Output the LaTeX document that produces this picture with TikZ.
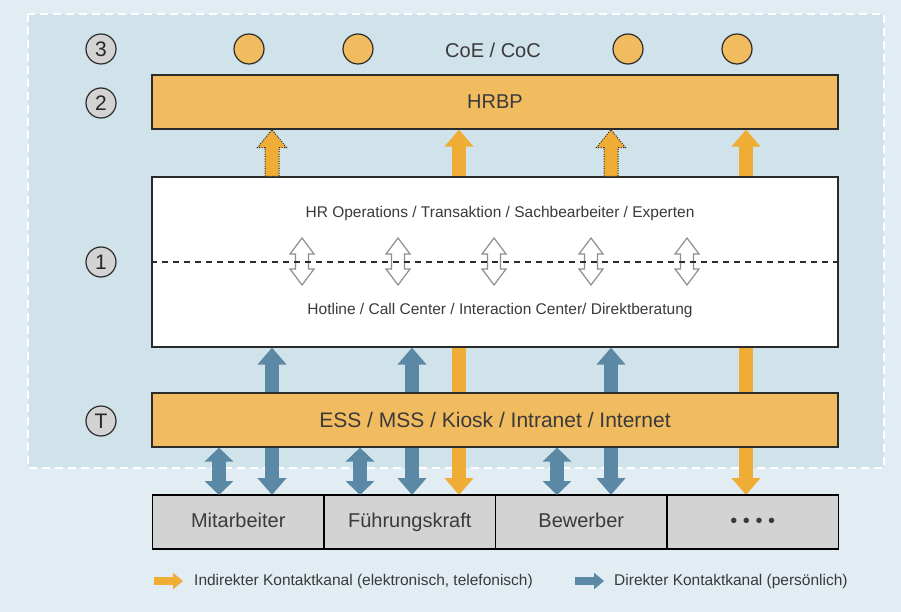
\documentclass[tikz,border=0pt]{standalone}
\usepackage{fontspec}
\setmainfont{Liberation Sans}
\usetikzlibrary{arrows.meta,positioning,calc}

\definecolor{outerblue}{HTML}{E1EDF2}
\definecolor{innerblue}{HTML}{D1E3EA}
\definecolor{barorange}{HTML}{F1BB5F}
\definecolor{arrorange}{HTML}{EFAD36}
\definecolor{arrblue}{HTML}{5B88A4}
\definecolor{boxgray}{HTML}{D3D3D3}
\definecolor{txtgray}{HTML}{3A3A3A}
\definecolor{linegray}{HTML}{2B2B2B}
\definecolor{hollowgray}{HTML}{8A8F93}

\pgfdeclarelayer{back}
\pgfsetlayers{back,main}

% block arrow with outline, tip at #3
\newcommand{\blockup}[3]{%
  \draw[#1] ($(#2)+(-7,0)$) -- ($(#3)+(-7,18)$) -- ($(#3)+(-14.5,18)$) -- (#3)
    -- ($(#3)+(14.5,18)$) -- ($(#3)+(7,18)$) -- ($(#2)+(7,0)$) -- cycle;}
% double block arrow, #2 on top, #3 below
\newcommand{\blockboth}[3]{%
  \draw[#1] (#2) -- ($(#2)+(12,16)$) -- ($(#2)+(6.5,16)$) -- ($(#3)+(6.5,-16)$)
    -- ($(#3)+(12,-16)$) -- (#3) -- ($(#3)+(-12,-16)$) -- ($(#3)+(-6.5,-16)$)
    -- ($(#2)+(-6.5,16)$) -- ($(#2)+(-12,16)$) -- cycle;}

\tikzset{
  bar/.style={rectangle, draw=linegray, line width=1.2pt, fill=barorange,
    minimum width=686pt, minimum height=54pt, inner sep=0pt, text=txtgray,
    font=\fontsize{20pt}{24pt}\selectfont},
  opsbox/.style={rectangle, draw=linegray, line width=1.2pt, fill=white,
    minimum width=686pt, minimum height=170pt, inner sep=0pt},
  grpbox/.style={rectangle, draw=black, line width=1.2pt, fill=boxgray,
    minimum width=171.5pt, minimum height=54pt, inner sep=0pt, outer sep=0pt,
    text height=14.5pt, text depth=4pt,
    text=txtgray, font=\fontsize{20pt}{24pt}\selectfont},
  numc/.style={circle, draw=linegray, line width=1.2pt, fill=boxgray,
    minimum size=30pt, inner sep=0pt, text=black!85,
    font=\fontsize{21pt}{24pt}\selectfont},
  coec/.style={circle, draw=linegray, line width=1.2pt, fill=barorange,
    minimum size=30pt, inner sep=0pt},
  lbl/.style={text=txtgray, inner sep=0pt, text height=10.5pt, text depth=3pt,
    font=\fontsize{15.5pt}{18pt}\selectfont},
  leglbl/.style={text=txtgray, inner sep=0pt, anchor=west,
    font=\fontsize{15.5pt}{18pt}\selectfont},
  oarrow/.style={draw=arrorange, line width=14pt,
    -{Triangle[width=28pt,length=17pt]}},
  barrow/.style={draw=arrblue, line width=14pt,
    {Triangle[width=28pt,length=17pt]}-{Triangle[width=28pt,length=17pt]}},
  bshort/.style={draw=arrblue, line width=14pt,
    {Triangle[width=28pt,length=14pt]}-{Triangle[width=28pt,length=14pt]}},
  dotarr/.style={fill=arrorange, draw=black!85, line width=1pt,
    dash pattern=on 1pt off 1.4pt},
  hollow/.style={fill=white, draw=hollowgray, line width=1.2pt},
  lego/.style={draw=arrorange, line width=8pt, -{Triangle[width=16pt,length=10pt]}},
  legb/.style={draw=arrblue, line width=8pt, -{Triangle[width=16pt,length=10pt]}}
}

\begin{document}
\begin{tikzpicture}[x=1pt, y=-1pt]
\useasboundingbox (0,0) rectangle (901,612);

% backgrounds
\begin{pgfonlayer}{back}
\fill[outerblue] (0,0) rectangle (901,612);
\draw[fill=innerblue, draw=white, line width=1.6pt, dash pattern=on 8pt off 5pt]
  (28,14) rectangle (884,468);
\end{pgfonlayer}

% levels
\node[numc] (n3) at (101,49) {3};
\node[numc] (n2) at (101,103) {2};
\node[numc] (n1) at (101,262) {1};
\node[numc] (nT) at (101,421) {T};

% CoE / CoC
\node[coec] (coe1) at (249,49) {};
\node[coec] (coe2) at (358,49) {};
\node[coec] (coe3) at (628,49) {};
\node[coec] (coe4) at (737,49) {};
\node[text=txtgray, font=\fontsize{20pt}{24pt}\selectfont] (coe) at (493,50) {CoE / CoC};

\node[bar] (hrbp) at (495,102) {HRBP};
\node[opsbox] (ops) at (495,262) {};
\node[lbl] (opstop) at (500,214) {HR Operations / Transaktion / Sachbearbeiter / Experten};
\node[lbl] (opsbot) at (500,311) {Hotline / Call Center / Interaction Center/ Direktberatung};
\node[bar, font=\fontsize{21pt}{25pt}\selectfont] (ess) at (495,420) {ESS / MSS / Kiosk / Intranet / Internet};

% target groups
\node[grpbox] (mit) at (238.25,522) {Mitarbeiter};
\node[grpbox, right=0pt of mit] (fk) {Führungskraft};
\node[grpbox, right=0pt of fk] (bew) {Bewerber};
\node[grpbox, right=0pt of bew] (more) {• • • •};

% arrow columns
\coordinate (colA) at (272,0);
\coordinate (colB) at (459,0);
\coordinate (colC) at (611,0);
\coordinate (colD) at (746,0);
\coordinate (colE) at (412,0);
\coordinate (sh1) at (219,0);
\coordinate (sh2) at (360,0);
\coordinate (sh3) at (557,0);

\begin{pgfonlayer}{back}
\draw[barrow] (colA |- mit.north) -- (colA |- ops.south);
\draw[barrow] (colE |- fk.north) -- (colE |- ops.south);
\draw[barrow] (colC |- bew.north) -- (colC |- ops.south);
\draw[oarrow] (colB |- ops.south) -- (colB |- fk.north);
\draw[oarrow] (colD |- ops.south) -- (colD |- more.north);
\end{pgfonlayer}

\draw[bshort] (sh1 |- mit.north) -- (sh1 |- ess.south);
\draw[bshort] (sh2 |- fk.north) -- (sh2 |- ess.south);
\draw[bshort] (sh3 |- bew.north) -- (sh3 |- ess.south);

% into HRBP
\blockup{dotarr}{colA |- ops.north}{colA |- hrbp.south}
\blockup{dotarr}{colC |- ops.north}{colC |- hrbp.south}
\draw[oarrow] (colB |- ops.north) -- (colB |- hrbp.south);
\draw[oarrow] (colD |- ops.north) -- (colD |- hrbp.south);

% front office / back office
\foreach \hx [count=\i] in {302,398,494,591,687} {
  \coordinate (ht\i) at (\hx,238);
  \coordinate (hb\i) at (\hx,285);
  \blockboth{hollow}{ht\i}{hb\i}
}
\draw[linegray, line width=1.1pt, dash pattern=on 6pt off 5pt] (ops.west) -- (ops.east);

% legend
\node[leglbl] (legI) at (194,581) {Indirekter Kontaktkanal (elektronisch, telefonisch)};
\node[leglbl] (legD) at (614,581) {Direkter Kontaktkanal (persönlich)};
\coordinate (legIa) at (154,581);
\coordinate (legIb) at (183,581);
\coordinate (legDa) at (575,581);
\coordinate (legDb) at (604,581);
\draw[lego] (legIa) -- (legIb);
\draw[legb] (legDa) -- (legDb);
\end{tikzpicture}
\end{document}
